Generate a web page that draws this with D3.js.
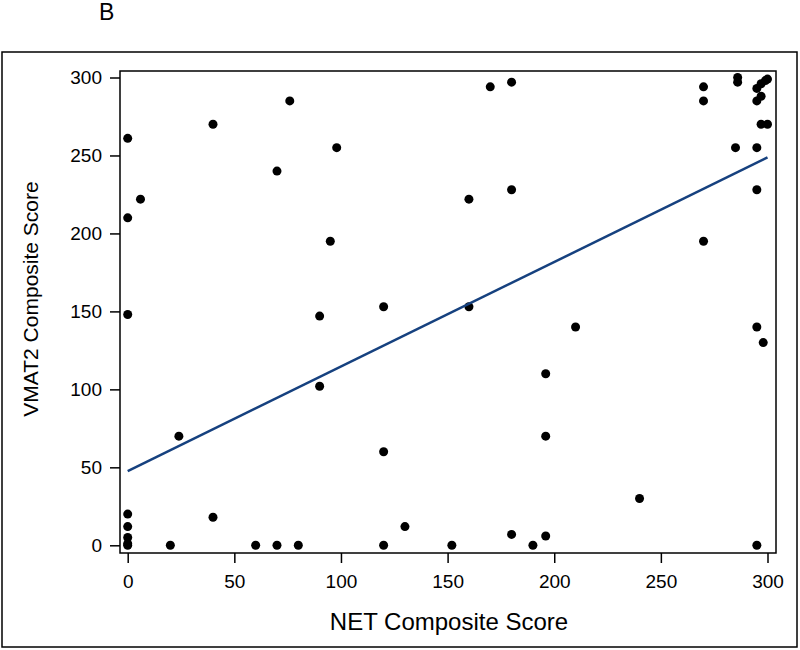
<!DOCTYPE html>
<html>
<head>
<meta charset="utf-8">
<script src="https://cdn.jsdelivr.net/npm/d3@7"></script>
<style>
  body { margin: 0; background: #fff; }
  text { font-family: "Liberation Sans", Arial, sans-serif; fill: #000; }
</style>
</head>
<body>
<div id="chart"></div>
<script>
// NET vs VMAT2 composite scores
const netScore = [0, 40, 76, 98, 70, 6, 0, 95, 170, 180, 160, 180,
  270, 270, 286, 286, 295, 297, 299, 300, 295, 297, 297, 300, 285, 295, 295, 270,
  210, 295, 298, 0, 90, 90, 24, 0, 0, 0, 0, 0, 40, 20, 60, 70, 80,
  120, 160, 196, 196, 120, 130, 120, 152, 180, 190, 196, 240, 295];
const vmat2Score = [261, 270, 285, 255, 240, 222, 210, 195, 294, 297, 222, 228,
  294, 285, 300, 297, 293, 296, 298, 299, 285, 288, 270, 270, 255, 255, 228, 195,
  140, 140, 130, 148, 147, 102, 70, 20, 12, 5, 1, 0, 18, 0, 0, 0, 0,
  153, 153, 110, 70, 60, 12, 0, 0, 7, 0, 6, 30, 0];
// fitted line end points
const fitX = [0, 300];
const fitY = [47.6, 248.7];
const xTicks = [0, 50, 100, 150, 200, 250, 300];
const yTicks = [0, 50, 100, 150, 200, 250, 300];

const width = 800, height = 650;
const svg = d3.select("#chart").append("svg").attr("width", width).attr("height", height);

// outer frame
svg.append("rect").attr("x", 2).attr("y", 52).attr("width", 795).attr("height", 595)
  .attr("fill", "none").attr("stroke", "#000").attr("stroke-width", 1.5);

svg.append("text").text("B").attr("x", 99).attr("y", 20).style("font-size", "23px");

const plot = { left: 120, top: 71, right: 776, bottom: 553 };

const x = d3.scaleLinear().domain([0, 300]).range([127.7, 767.5]);
const y = d3.scaleLinear().domain([0, 300]).range([545.3, 77.5]);

// plot box
svg.append("rect").attr("x", plot.left).attr("y", plot.top)
  .attr("width", plot.right - plot.left).attr("height", plot.bottom - plot.top)
  .attr("fill", "none").attr("stroke", "#000").attr("stroke-width", 1.5);

const xAxis = svg.append("g").attr("transform", `translate(0,${plot.bottom})`)
  .call(d3.axisBottom(x).tickValues(xTicks).tickSize(10).tickPadding(12).tickSizeOuter(0));
const yAxis = svg.append("g").attr("transform", `translate(${plot.left},0)`)
  .call(d3.axisLeft(y).tickValues(yTicks).tickSize(10).tickPadding(8).tickSizeOuter(0));
[xAxis, yAxis].forEach(a => {
  a.select(".domain").remove();
  a.selectAll("line").attr("stroke", "#000").attr("stroke-width", 1.5);
  a.selectAll("text").attr("font-size", 19).attr("font-family", "Liberation Sans, Arial, sans-serif").attr("fill", "#000");
});

svg.append("text").text("NET Composite Score")
  .attr("x", 449).attr("y", 630)
  .attr("text-anchor", "middle").style("font-size", "24px");
svg.append("text").text("VMAT2 Composite Score")
  .attr("transform", "translate(38,299) rotate(-90)")
  .attr("text-anchor", "middle").style("font-size", "21px");

const pts = netScore.map((d, i) => ({ x: d, y: vmat2Score[i] }));
svg.append("g").selectAll("circle").data(pts).enter().append("circle")
  .attr("cx", d => x(d.x)).attr("cy", d => y(d.y)).attr("r", 4.5).attr("fill", "#000");

const fit = fitX.map((d, i) => [d, fitY[i]]);
svg.append("path").datum(fit)
  .attr("d", d3.line().x(d => x(d[0])).y(d => y(d[1])))
  .attr("fill", "none").attr("stroke", "#16417f").attr("stroke-width", 2.5);
</script>
</body>
</html>
